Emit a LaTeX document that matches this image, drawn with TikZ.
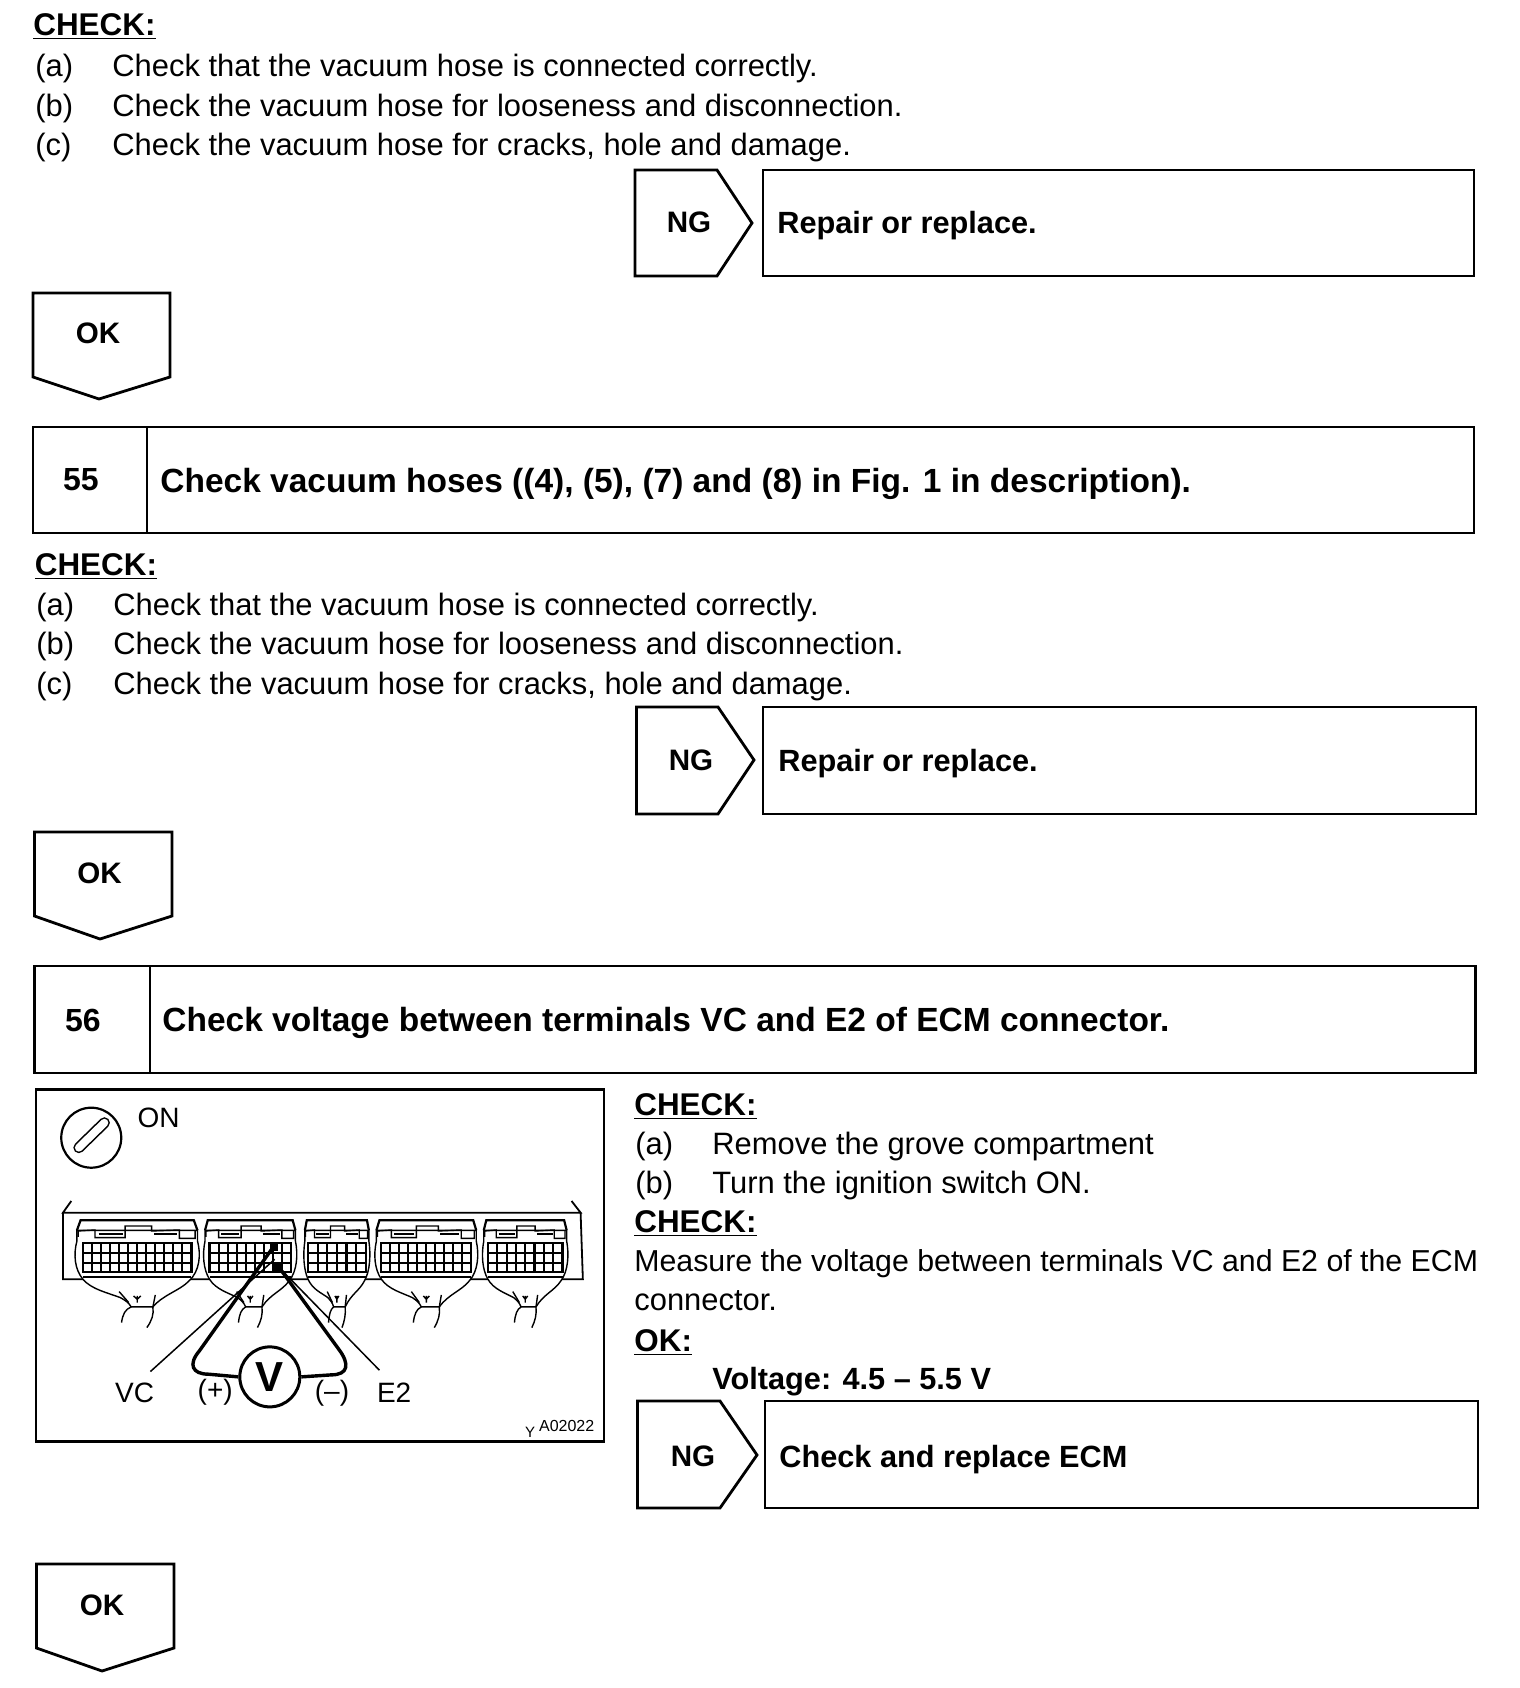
\documentclass[tikz,border=0pt]{standalone}
\usepackage{fontspec}
\setmainfont{Liberation Sans}
\tikzset{
  body/.style={anchor=base west,inner sep=0pt,font=\fontsize{15.45}{17}\selectfont},
  bodyb/.style={anchor=base west,inner sep=0pt,font=\fontsize{15.35}{17}\selectfont\bfseries},
  chk/.style={anchor=base west,inner sep=0pt,font=\fontsize{15.7}{17}\selectfont\bfseries},
  headt/.style={anchor=base west,inner sep=0pt,font=\fontsize{16.75}{19}\selectfont\bfseries},
  mid/.style={anchor=center,inner sep=0pt,font=\fontsize{14.8}{16}\selectfont\bfseries},
  figt/.style={anchor=center,inner sep=0pt,font=\fontsize{14}{16}\selectfont},
  frame/.style={draw=black,line width=1.4pt,line join=miter},
  conn/.style={line width=0.7pt},
  grd/.style={line width=1.05pt},
  wire/.style={line width=1.7pt,line join=round},
  lead/.style={line width=0.75pt}
}
% ECM connector: left x, width, columns
\newcommand{\ecmconn}[3]{%
\begin{scope}[shift={(#1,0)},xscale=#2]
 \draw[conn,fill=white] (0,438) -- (0,470) .. controls (-0.03,510) and (-0.02,555) .. (0.05,585) .. controls (0.12,615) and (0.25,625) .. (0.36,640) .. controls (0.4,648) and (0.43,655) .. (0.45,668) -- (0.63,668) .. controls (0.72,630) and (0.85,620) .. (0.93,590) .. controls (1.02,560) and (1.03,510) .. (1,470) -- (1,438) -- cycle;
 \draw[line width=1.1pt] (0,438) -- (0.03,408) -- (0.97,408) -- (1,438);
 \draw[conn] (0.01,458) -- (0.01,440) -- (0.15,437) -- (0.15,460) -- (0.4,460) -- (0.4,425) -- (0.62,425) -- (0.62,440) -- (0.85,437) -- (0.85,462) -- (0.98,462) -- (0.98,440);
 \draw[line width=1.1pt] (0.18,450) -- (0.38,450) (0.64,450) -- (0.83,450);
 \draw[line width=1.1pt] (0.05,578) -- (0.95,578);
 \draw[grd] (0.05,475) rectangle (0.95,562);
 \draw[grd] (0.05,505) -- (0.95,505) (0.05,535) -- (0.95,535);
 \pgfmathsetmacro{\ecmstep}{0.9/#3}
 \foreach \i in {1,...,#3}{ \pgfmathsetmacro{\ecmx}{0.05+\i*\ecmstep}
   \draw[grd] (\ecmx,475) -- (\ecmx,562);}
 \draw[conn] (0.35,622) -- (0.43,655) (0.63,668) -- (0.65,632) (0.5,635) -- (0.5,655) (0.47,635) -- (0.5,645) -- (0.53,635);
 \draw[conn] (0.45,668) .. controls (0.4,675) and (0.38,690) .. (0.37,715);
 \draw[conn] (0.63,668) .. controls (0.64,690) and (0.62,710) .. (0.58,730);
\end{scope}}
\begin{document}
\begin{tikzpicture}[x=0.5pt,y=-0.5pt]
\useasboundingbox (0,0) rectangle (1520,1688);
\fill[white] (0,0) rectangle (1520,1688);

% block 1
\node[chk] (chk1) at (33,35.5) {\underline{CHECK:}};
\node[body] (a1) at (35,76.5) {(a)};
\node[body] (at1) at (112,76.5) {Check that the vacuum hose is connected correctly.};
\node[body] (b1) at (35,116) {(b)};
\node[body] (bt1) at (112,116) {Check the vacuum hose for looseness and disconnection.};
\node[body] (c1) at (35,155) {(c)};
\node[body] (ct1) at (112,155) {Check the vacuum hose for cracks, hole and damage.};
\draw[frame] (635,170) -- (717,170) -- (752,223) -- (717,276) -- (635,276) -- cycle;
\node[mid] (ng1) at (689,222) {NG};
\node[frame,minimum width=355.5pt,minimum height=53pt,inner sep=0pt] (r1) at (1118.5,223) {};
\node[bodyb] (rt1) at (777,233) {Repair or replace.};
\draw[frame] (33,293) -- (170,293) -- (170,377) -- (99,399) -- (33,377) -- cycle;
\node[mid] (ok1) at (98,333) {OK};

% header 55
\node[frame,minimum width=720.5pt,minimum height=53pt,inner sep=0pt] (h55) at (753.5,480) {};
\draw[frame] (147,427) -- (147,533);
\node[mid,font=\fontsize{16}{18}\selectfont\bfseries] (n55) at (81,480) {55};
\node[headt] (t55) at (160,492) {Check vacuum hoses ((4), (5), (7) and (8) in Fig. 1 in description).};

% block 2
\node[chk] (chk2) at (34.5,575) {\underline{CHECK:}};
\node[body] (a2) at (36,615.5) {(a)};
\node[body] (at2) at (113,615.5) {Check that the vacuum hose is connected correctly.};
\node[body] (b2) at (36,654.5) {(b)};
\node[body] (bt2) at (113,654.5) {Check the vacuum hose for looseness and disconnection.};
\node[body] (c2) at (36,694) {(c)};
\node[body] (ct2) at (113,694) {Check the vacuum hose for cracks, hole and damage.};
\draw[frame] (636.5,707) -- (718,707) -- (754,760) -- (718,814) -- (636.5,814) -- cycle;
\node[mid] (ng2) at (691,760) {NG};
\node[frame,minimum width=356.5pt,minimum height=53.5pt,inner sep=0pt] (r2) at (1119.5,760.5) {};
\node[bodyb] (rt2) at (778,771) {Repair or replace.};
\draw[frame] (34.5,832) -- (172,832) -- (172,916) -- (100,939) -- (34.5,916) -- cycle;
\node[mid] (ok2) at (99.5,873) {OK};

% header 56
\node[frame,minimum width=720.5pt,minimum height=53.5pt,inner sep=0pt] (h56) at (755,1019.5) {};
\draw[frame] (150,966) -- (150,1073);
\node[mid,font=\fontsize{16}{18}\selectfont\bfseries] (n56) at (83,1020) {56};
\node[headt] (t56) at (162,1031) {Check voltage between terminals VC and E2 of ECM connector.};

% figure frame
\node[frame,minimum width=284pt,minimum height=176pt,inner sep=0pt] (fig) at (320,1265.5) {};
\begin{scope}[shift={(29.85,1084.4)},x=0.18835pt,y=-0.16655pt]
 \node[draw,line width=1.1pt,circle,minimum size=30pt,inner sep=0pt] (key) at (163,160) {};
 \draw[line width=5.5pt,line cap=round] (130,190) -- (198,115);
 \draw[white,line width=3.9pt,line cap=round] (130,190) -- (198,115);
 \node[figt] (on) at (342,100) {ON};
 \draw[line width=0.9pt] (110,350) -- (88,385) -- (1462,385) -- (1438,350);
 \draw[line width=0.9pt] (88,385) -- (88,585) -- (1468,585) -- (1462,385);
 \ecmconn{125}{320}{12}
 \ecmconn{465}{240}{9}
 \ecmconn{730}{170}{6}
 \ecmconn{920}{265}{10}
 \ecmconn{1205}{220}{8}
 \fill[black] (638,472) rectangle (660,500);
 \fill[black] (648,535) rectangle (672,560);
 \node[draw,line width=1.5pt,circle,minimum size=30pt,inner sep=0pt,fill=white,font=\fontsize{21}{23}\selectfont\bfseries] (volt) at (637,878) {V};
 \coordinate (tp) at (650,482);
 \coordinate (tm) at (662,550);
 \coordinate (lvc) at (320,862);
 \coordinate (le2) at (928,858);
 \draw[wire] (volt.west) -- (475,870) .. controls (430,870) and (420,840) .. (450,800) -- (tp);
 \draw[wire] (volt.east) -- (800,872) .. controls (845,872) and (850,840) .. (820,795) -- (tm);
 \draw[lead] (lvc) -- (650,525);
 \draw[lead] (le2) -- (tm);
 \node[figt] (vc) at (278,925) {VC};
 \node[figt] (plus) at (492,925) {(+)};
 \node[figt] (minus) at (802,928) {(--)};
 \node[figt] (e2) at (967,925) {E2};
 \node[anchor=center,inner sep=0pt,font=\fontsize{8}{9}\selectfont] (code) at (1425,1025) {A02022};
 \node[anchor=center,inner sep=0pt,font=\fontsize{7.5}{9}\selectfont] (yy) at (1328,1045) {Y};
\end{scope}

% right column
\node[chk] (chk3) at (634,1115) {\underline{CHECK:}};
\node[body] (a3) at (635,1154) {(a)};
\node[body] (at3) at (712,1154) {Remove the grove compartment};
\node[body] (b3) at (635,1193) {(b)};
\node[body] (bt3) at (712,1193) {Turn the ignition switch ON.};
\node[chk] (chk4) at (634,1232) {\underline{CHECK:}};
\node[body,font=\fontsize{15.15}{17}\selectfont] (m1) at (634,1271) {Measure the voltage between terminals VC and E2 of the ECM};
\node[body] (m2) at (634,1310) {connector.};
\node[chk] (okh) at (634,1351) {\underline{OK:}};
\node[bodyb] (volts) at (712,1389) {Voltage: 4.5 -- 5.5 V};
\draw[frame] (637.5,1401) -- (720,1401) -- (757,1455) -- (720,1508) -- (637.5,1508) -- cycle;
\node[mid] (ng3) at (693,1456) {NG};
\node[frame,minimum width=356.5pt,minimum height=53.5pt,inner sep=0pt] (r3) at (1121.5,1454.5) {};
\node[bodyb] (rt3) at (779,1467) {Check and replace ECM};
\draw[frame] (36.5,1564) -- (174,1564) -- (174,1648) -- (102,1671) -- (36.5,1648) -- cycle;
\node[mid] (ok3) at (102,1605) {OK};
\end{tikzpicture}
\end{document}
